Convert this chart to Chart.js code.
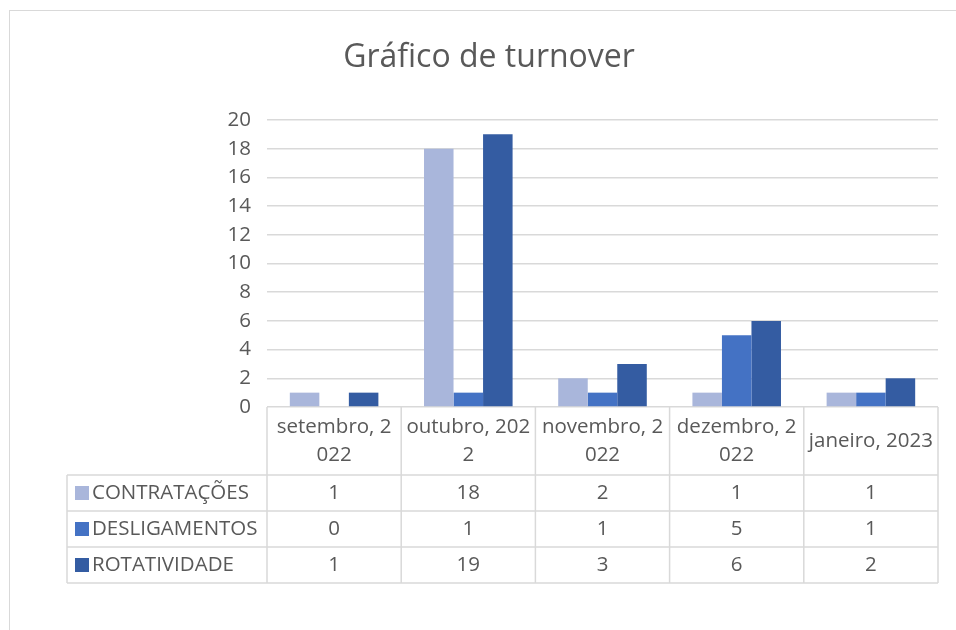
<!DOCTYPE html>
<html>
<head>
<meta charset="utf-8">
<script src="https://cdn.jsdelivr.net/npm/chart.js@4"></script>
<style>
  html, body { margin: 0; padding: 0; background: #fff; }
  #wrap { position: relative; width: 956px; height: 630px; overflow: hidden; }
  #frame { position: absolute; left: 9px; top: 10px; width: 960px; height: 630px;
           border-left: 1px solid #d9d9d9; border-top: 1px solid #d9d9d9; box-sizing: border-box; }
  canvas { position: absolute; left: 0; top: 0; }
</style>
</head>
<body>
<div id="wrap">
  <div id="frame"></div>
  <canvas id="c" width="956" height="630"></canvas>
</div>
<script>
const categories = ['setembro, 2022', 'outubro, 2022', 'novembro, 2022', 'dezembro, 2022', 'janeiro, 2023'];
const categoryLines = [['setembro, 2', '022'], ['outubro, 202', '2'], ['novembro, 2', '022'], ['dezembro, 2', '022'], ['janeiro, 2023']];
const seriesNames = ['CONTRATAÇÕES', 'DESLIGAMENTOS', 'ROTATIVIDADE'];
const contratacoes = [1, 18, 2, 1, 1];
const desligamentos = [0, 1, 1, 5, 1];
const rotatividade = [1, 19, 3, 6, 2];
const seriesColors = ['#a9b6db', '#4472c4', '#345ca2'];
const yMin = 0, yMax = 20, yStep = 2;
const chartTitle = 'Gráfico de turnover';

const FONT = '"Open Sans", Lato, sans-serif';
const TEXT = '#595959';
const GRID = '#d9d9d9';

const tablePlugin = {
  id: 'dataTable',
  afterDraw(chart) {
    const { ctx, chartArea: a, scales: { x } } = chart;
    const n = categories.length;
    const w = (a.right - a.left) / n;
    const top = a.bottom;
    const headH = 68, rowH = 36;
    const tableLeft = 67;
    const bottom = top + headH + rowH * seriesNames.length;
    ctx.save();
    ctx.strokeStyle = GRID;
    ctx.lineWidth = 1.5;
    ctx.beginPath();
    for (let r = 0; r <= seriesNames.length; r++) {
      const y = top + headH + r * rowH;
      ctx.moveTo(tableLeft, y); ctx.lineTo(a.right, y);
    }
    for (let i = 0; i <= n; i++) {
      const xx = x.getPixelForValue(0) - w / 2 + i * w;
      ctx.moveTo(xx, top); ctx.lineTo(xx, bottom);
    }
    ctx.moveTo(tableLeft, top + headH); ctx.lineTo(tableLeft, bottom);
    ctx.stroke();

    ctx.fillStyle = TEXT;
    ctx.textAlign = 'center';
    ctx.textBaseline = 'middle';
    ctx.font = '20.5px ' + FONT;
    categoryLines.forEach((lines, i) => {
      const cx = x.getPixelForValue(i);
      const lh = 28;
      const cy = top + headH / 2;
      lines.forEach((t, k) => {
        ctx.fillText(t, cx, cy + (k - (lines.length - 1) / 2) * lh);
      });
    });
    const data = [contratacoes, desligamentos, rotatividade];
    data.forEach((vals, r) => {
      const cy = top + headH + r * rowH + rowH / 2;
      vals.forEach((v, i) => {
        ctx.textAlign = 'center';
        ctx.fillText(String(v), x.getPixelForValue(i), cy);
      });
      ctx.fillStyle = seriesColors[r];
      ctx.fillRect(75, cy - 7, 14, 14);
      ctx.fillStyle = TEXT;
      ctx.textAlign = 'left';
      ctx.fillText(seriesNames[r], 92, cy);
    });
    ctx.restore();
  }
};

new Chart(document.getElementById('c'), {
  type: 'bar',
  data: {
    labels: categories,
    datasets: [
      { label: seriesNames[0], data: contratacoes, backgroundColor: seriesColors[0] },
      { label: seriesNames[1], data: desligamentos, backgroundColor: seriesColors[1] },
      { label: seriesNames[2], data: rotatividade, backgroundColor: seriesColors[2] }
    ]
  },
  options: {
    responsive: false,
    animation: false,
    events: [],
    layout: { padding: { top: 39, right: 18, bottom: 223, left: 40 } },
    datasets: { bar: { categoryPercentage: 0.66, barPercentage: 1.0, borderWidth: 0 } },
    plugins: {
      legend: { display: false },
      tooltip: { enabled: false },
      title: {
        display: true, text: chartTitle, color: TEXT,
        font: { family: FONT, size: 32, weight: 'normal', lineHeight: 1.2 },
        padding: { top: 0, bottom: 120 - 39 - 38.4 }
      }
    },
    scales: {
      x: { display: false },
      y: {
        min: yMin, max: yMax,
        afterFit(s) { s.width = 227; },
        border: { display: false },
        grid: { color: GRID, lineWidth: 1.5, drawTicks: false },
        ticks: { stepSize: yStep, padding: 16, color: TEXT, font: { family: FONT, size: 20.5 } }
      }
    }
  },
  plugins: [tablePlugin]
});
</script>
</body>
</html>
